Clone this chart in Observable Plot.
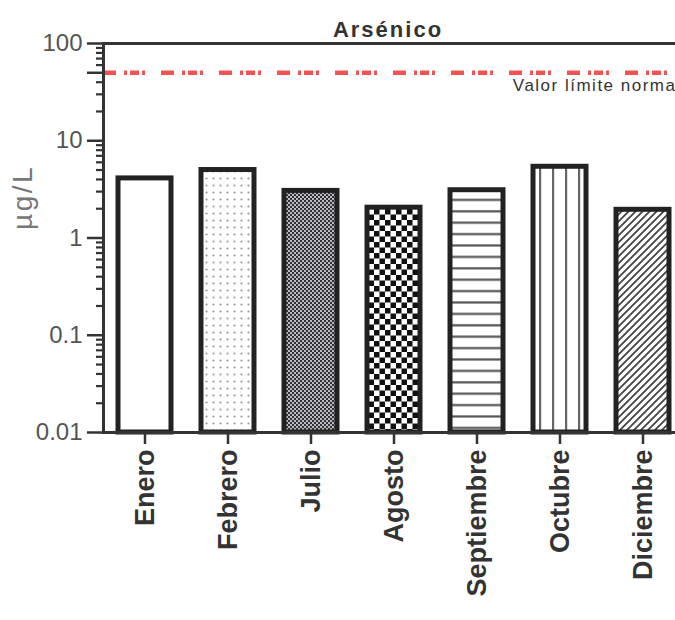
<!DOCTYPE html>
<html><head><meta charset="utf-8">
<script src="https://cdn.jsdelivr.net/npm/d3@7"></script>
<script src="https://cdn.jsdelivr.net/npm/@observablehq/plot@0.6"></script>
<style>
html,body{margin:0;padding:0;background:#fff;overflow:hidden;width:675px;height:620px}
#chart svg{display:block;max-width:none !important;font-family:"Liberation Sans",Arial,sans-serif}
</style></head><body><div id="chart"></div>
<script>
const months = ["Enero","Febrero","Julio","Agosto","Septiembre","Octubre","Diciembre"];
const arsenic = [4.1, 5.0, 3.05, 2.05, 3.1, 5.4, 1.95];
const fills = ["white","url(#p-dots)","url(#p-fine)","url(#p-check)","url(#p-hlines)","url(#p-vlines)","url(#p-diag)"];
const yDomain = [0.01, 100];
const majorTicks = [0.01, 0.1, 1, 10, 50, 100];
const minorTicks = [0.02,0.03,0.04,0.05,0.06,0.07,0.08,0.09,
                    0.2,0.3,0.4,0.5,0.6,0.7,0.8,0.9,
                    2,3,4,5,6,7,8,9,
                    20,30,40,60,70,80,90];
const limitValue = 50;
const limitLabel = "Valor límite norma";
const title = "Arsénico";
const yLabel = "µg/L";

const data = months.map((m, i) => ({month: m, value: arsenic[i], fill: fills[i]}));
const font = "Liberation Sans, Arial, sans-serif";

const plot = Plot.plot({
  width: 690,
  height: 620,
  marginLeft: 103,
  marginRight: 6,
  marginTop: 43,
  marginBottom: 188,
  style: {fontFamily: font, background: "#fff", overflow: "visible"},
  x: {domain: months, paddingInner: 0.36, paddingOuter: 0.18, label: null},
  y: {type: "log", domain: yDomain, label: null},
  color: {type: "identity"},
  marks: [
    Plot.barY(data, {x: "month", y1: yDomain[0], y2: "value", fill: "fill", stroke: "#222", strokeWidth: 5}),
    Plot.ruleY([limitValue], {stroke: "#f25252", strokeWidth: 4.5, strokeDasharray: "13,8,3,3,9,3,3,16"}),
    Plot.text([limitLabel], {y: () => limitValue, frameAnchor: "right", textAnchor: "end", dx: -8, dy: 13,
      fontSize: 17, fill: "#333", fontFamily: font}),
    Plot.frame({stroke: "#333", strokeWidth: 3}),
    Plot.axisY({ticks: minorTicks, tickSize: 7, tickFormat: () => "", stroke: "#333", strokeWidth: 2.2}),
    Plot.axisY({ticks: majorTicks, tickSize: 16, tickPadding: 5, tickFormat: d => String(d),
      stroke: "#333", strokeWidth: 2.5, fill: "#555", fontSize: 24, fontFamily: font}),
    Plot.axisX({tickSize: 12, tickPadding: 5, tickRotate: -90, stroke: "#333", strokeWidth: 2.5,
      fill: "#333", fontSize: 27, fontWeight: "bold", fontFamily: font}),
    Plot.text([title], {frameAnchor: "top", dy: -22, dx: -6, fontSize: 22, fontWeight: "bold", fill: "#333", fontFamily: font}),
    Plot.text([yLabel], {frameAnchor: "left", dx: -80, dy: -8, rotate: -90, fontSize: 28, fill: "#777", fontFamily: font})
  ]
});

// letter spacing (styling only)
const spacing = {[title]: "2px", [yLabel]: "2.5px", [limitLabel]: "1.5px"};
d3.select(plot).selectAll("text").each(function() {
  const s = spacing[this.textContent];
  if (s) this.setAttribute("letter-spacing", s);
});

d3.select(plot).insert("defs", ":first-child").html(`
<pattern id="p-dots" patternUnits="userSpaceOnUse" width="7" height="7">
  <rect width="7" height="7" fill="#fff"/><circle cx="3.5" cy="3.5" r="1.1" fill="#999"/>
</pattern>
<pattern id="p-fine" patternUnits="userSpaceOnUse" width="4" height="4">
  <rect width="4" height="4" fill="#b8b8c4"/><rect width="2" height="2" fill="#333"/><rect x="2" y="2" width="2" height="2" fill="#333"/>
</pattern>
<pattern id="p-check" patternUnits="userSpaceOnUse" width="11" height="11">
  <rect width="11" height="11" fill="#fff"/><rect width="5.5" height="5.5" fill="#111"/><rect x="5.5" y="5.5" width="5.5" height="5.5" fill="#111"/>
</pattern>
<pattern id="p-hlines" patternUnits="userSpaceOnUse" width="12" height="11.4">
  <rect width="12" height="11.4" fill="#fff"/><rect y="5" width="12" height="2.2" fill="#555"/>
</pattern>
<pattern id="p-vlines" patternUnits="userSpaceOnUse" width="13" height="12">
  <rect width="13" height="12" fill="#fff"/><rect x="6" width="2.2" height="12" fill="#666"/>
</pattern>
<pattern id="p-diag" patternUnits="userSpaceOnUse" width="7" height="7">
  <rect width="7" height="7" fill="#fff"/><path d="M-1,1 l2,-2 M0,7 l7,-7 M6,8 l2,-2" stroke="#444" stroke-width="1.8"/>
</pattern>`);

document.getElementById("chart").appendChild(plot);
</script></body></html>
